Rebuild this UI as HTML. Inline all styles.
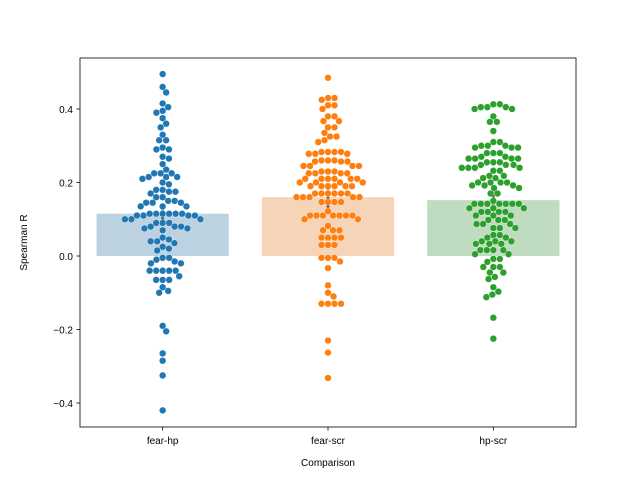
<!DOCTYPE html>
<html><head><meta charset="utf-8"><style>
html,body{margin:0;padding:0;background:#fff;}
svg text{font-family:"Liberation Sans","DejaVu Sans",sans-serif;fill:#000;}
</style></head><body>
<svg id="chart" width="640" height="480" viewBox="0 0 640 480" xmlns="http://www.w3.org/2000/svg">
<rect x="0" y="0" width="640" height="480" fill="#fff"/>
<g id="bars"></g>
<g id="points"></g>
<g id="axes"></g>
</svg>
<script>
const categories = ["fear-hp","fear-scr","hp-scr"];
const barMeans = [0.115,0.16,0.152];
const ciLow = [0.088,0.13,0.125];
const ciHigh = [0.143,0.19,0.18];
const yTicks = [-0.4,-0.2,0.0,0.2,0.4];
const yTickLabels = ["\u22120.4","\u22120.2","0.0","0.2","0.4"];
const fearHp = [0.495,0.46,0.445,0.415,0.405,0.395,0.39,0.375,0.36,0.35,0.33,0.315,0.315,0.295,0.29,0.29,0.27,0.265,0.25,0.235,0.225,0.225,0.225,0.215,0.215,0.215,0.21,0.2,0.195,0.18,0.18,0.175,0.175,0.17,0.16,0.16,0.15,0.15,0.145,0.145,0.145,0.135,0.135,0.135,0.115,0.115,0.115,0.115,0.115,0.115,0.11,0.11,0.11,0.11,0.1,0.1,0.1,0.09,0.09,0.09,0.08,0.08,0.08,0.075,0.075,0.07,0.05,0.045,0.04,0.04,0.035,0.025,0.02,0.015,-0.005,-0.005,-0.01,-0.015,-0.02,-0.02,-0.04,-0.04,-0.04,-0.04,-0.04,-0.055,-0.065,-0.065,-0.065,-0.085,-0.095,-0.1,-0.19,-0.205,-0.265,-0.285,-0.325,-0.42];
const fearScr = [0.485,0.43,0.43,0.425,0.41,0.41,0.4,0.38,0.38,0.367,0.367,0.35,0.35,0.335,0.325,0.325,0.315,0.31,0.283,0.283,0.283,0.283,0.278,0.278,0.278,0.26,0.26,0.26,0.257,0.257,0.257,0.245,0.245,0.245,0.245,0.23,0.23,0.23,0.225,0.225,0.225,0.225,0.21,0.21,0.21,0.21,0.21,0.21,0.2,0.2,0.2,0.2,0.19,0.19,0.19,0.19,0.19,0.19,0.17,0.17,0.17,0.17,0.17,0.17,0.16,0.16,0.16,0.16,0.16,0.147,0.147,0.147,0.147,0.122,0.11,0.11,0.11,0.11,0.11,0.11,0.11,0.1,0.1,0.082,0.07,0.07,0.07,0.05,0.05,0.05,0.05,0.03,0.03,0.03,-0.005,-0.005,-0.005,-0.015,-0.033,-0.08,-0.1,-0.11,-0.13,-0.13,-0.13,-0.13,-0.23,-0.263,-0.332];
const hpScr = [0.413,0.413,0.405,0.405,0.405,0.4,0.4,0.38,0.365,0.365,0.34,0.31,0.31,0.3,0.3,0.3,0.295,0.295,0.295,0.28,0.28,0.28,0.27,0.27,0.265,0.265,0.265,0.265,0.255,0.255,0.255,0.248,0.248,0.248,0.24,0.24,0.24,0.24,0.232,0.232,0.218,0.218,0.212,0.212,0.2,0.2,0.2,0.2,0.192,0.192,0.192,0.185,0.185,0.17,0.17,0.15,0.142,0.142,0.142,0.142,0.142,0.142,0.142,0.13,0.13,0.13,0.12,0.12,0.12,0.12,0.11,0.11,0.11,0.098,0.098,0.098,0.087,0.087,0.087,0.076,0.076,0.076,0.057,0.057,0.05,0.05,0.04,0.04,0.04,0.033,0.033,0.033,0.016,0.016,0.016,0.016,0.005,0.005,-0.008,-0.008,-0.016,-0.03,-0.03,-0.03,-0.045,-0.045,-0.057,-0.063,-0.085,-0.097,-0.105,-0.112,-0.168,-0.225];
const seriesValues = [fearHp,fearScr,hpScr];
const pointColors = ["#1f77b4","#ff7f0e","#2ca02c"];
const barColors = ["#bcd2e1","#f5d4b8","#c0dcc0"];

const NS="http://www.w3.org/2000/svg";
const pL=80,pR=576,pT=58,pB=427;
function yScale(v){return 256 - v*367.5;}
function xScale(i){return pL + (pR-pL)*(i+0.5)/categories.length;}
const band=(pR-pL)/categories.length;
function mk(tag,attrs,parent){const e=document.createElementNS(NS,tag);for(const k in attrs)e.setAttribute(k,attrs[k]);parent.appendChild(e);return e;}
const gBars=document.getElementById('bars'),gPts=document.getElementById('points'),gAx=document.getElementById('axes');

categories.forEach((c,i)=>{
  const cx=xScale(i),w=band*0.8;
  const r=mk('rect',{x:cx-w/2,y:yScale(barMeans[i]),width:w,height:yScale(0)-yScale(barMeans[i]),fill:barColors[i]},gBars);
  
  
  const l=mk('line',{x1:cx,x2:cx,y1:yScale(ciLow[i]),y2:yScale(ciHigh[i]),stroke:'#424242','stroke-width':2.5},gBars);
  
  
});

const D=6.5,R=3.4;
seriesValues.forEach((vals,i)=>{
  const cx=xScale(i);
  const placed=[];
  const order=vals.map((v,k)=>k).sort((a,b)=>vals[b]-vals[a]);
  order.forEach(k=>{
    const py=yScale(vals[k]);
    let best=0;
    for(let s=0;s<200;s++){
      const cands=s===0?[0]:[s*0.25,-s*0.25];
      let found=null;
      for(const off of cands){
        let ok=true;
        for(const p of placed){const dx=p[0]-off,dy=p[1]-py;if(dx*dx+dy*dy<D*D-0.01){ok=false;break;}}
        if(ok){found=off;break;}
      }
      if(found!==null){best=found;break;}
    }
    placed.push([best,py]);
    const c=mk('circle',{cx:cx+best,cy:py,r:R,fill:pointColors[i],stroke:'#fff','stroke-width':0.4},gPts);
    
    
  });
});

const frame=mk('rect',{x:pL,y:pT,width:pR-pL,height:pB-pT,fill:'none',stroke:'#000','stroke-width':0.8},gAx);


yTicks.forEach((t,k)=>{
  const y=yScale(t);
  const tk=mk('line',{x1:pL-3.5,x2:pL,y1:y,y2:y,stroke:'#000','stroke-width':0.8},gAx);
  
  
  const tx=mk('text',{x:pL-7,y:y+4,'text-anchor':'end','font-size':10},gAx);
  tx.textContent=yTickLabels[k];
  
  
});
categories.forEach((c,i)=>{
  const x=xScale(i);
  const tk=mk('line',{x1:x,x2:x,y1:pB,y2:pB+3.5,stroke:'#000','stroke-width':0.8},gAx);
  
  
  const tx=mk('text',{x:x,y:pB+17,'text-anchor':'middle','font-size':10},gAx);
  tx.textContent=c;
  
  
});
const xl=mk('text',{x:(pL+pR)/2,y:466,'text-anchor':'middle','font-size':10},gAx);
xl.textContent='Comparison';


const yl=mk('text',{x:0,y:0,'text-anchor':'middle','font-size':10,transform:'translate(27,'+((pT+pB)/2)+') rotate(-90)'},gAx);
yl.textContent='Spearman R';


</script>
</body></html>
